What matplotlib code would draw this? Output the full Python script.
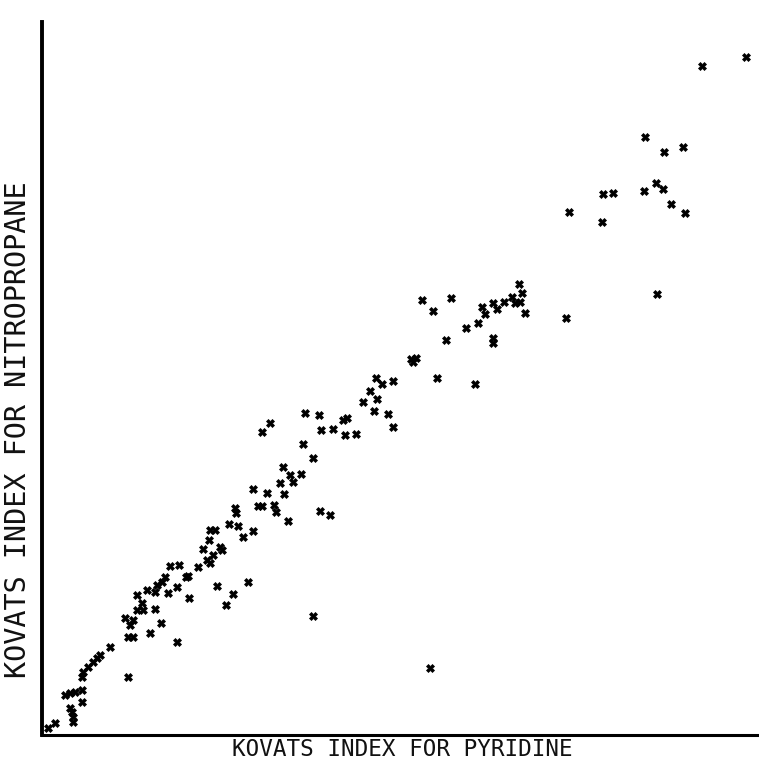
import numpy as np
import matplotlib
matplotlib.use("Agg")
import matplotlib.pyplot as plt

# --- Kovats index: pyridine vs nitropropane --- #
# values are in plot units (0 at the axes origin), x = pyridine, y = nitropropane

pyridine = [
    660, 704, 603, 622, 641, 614, 621, 602, 561, 571, 629, 643, 527, 560, 615, 524,
    477, 480, 478, 473, 380, 409, 391, 483, 440, 451, 462, 470, 455, 443, 436, 424,
    451, 451, 404, 369, 374, 371, 395, 433,
    334, 340, 351, 328, 335, 321, 332, 346, 351, 263, 277, 305, 301, 279, 291, 303,
    314, 220, 228, 261, 271, 241, 259, 251, 248, 238, 225, 211, 242, 216, 220, 232,
    234, 246, 278, 288, 194, 193, 187, 196, 168, 173, 211, 201, 167, 178,
    161, 180, 171, 165, 168, 156, 146, 144, 128, 137, 123, 120, 135, 126, 115, 113,
    105, 147, 175, 206, 191, 184, 95, 100, 95, 101, 113, 83, 91, 88, 119, 108, 86, 91,
    135, 68, 58, 55, 51, 46, 41, 40, 86, 33, 28, 23, 40, 40, 28, 30, 31, 31, 13, 6,
    271, 388,
]
nitropropane = [
    669, 678, 598, 583, 588, 552, 546, 544, 541, 542, 531, 522, 523, 513, 441, 417,
    451, 442, 433, 432, 435, 437, 424, 422, 428, 432, 433, 438, 426, 421, 412, 407,
    397, 392, 395, 376, 377, 373, 357, 351,
    357, 351, 354, 344, 336, 333, 324, 321, 308, 322, 320, 317, 315, 305, 306, 300,
    301, 303, 312, 291, 277, 268, 261, 253, 260, 252, 242, 246, 241, 229, 229, 230,
    223, 214, 224, 220, 222, 227, 211, 209, 205, 205, 204, 198, 195, 188,
    186, 185, 180, 175, 172, 168, 159, 158, 169, 170, 158, 153, 148, 142, 150, 143,
    145, 137, 149, 153, 141, 130, 140, 132, 125, 125, 126, 117, 115, 110, 112, 102, 98, 98,
    93, 88, 80, 77, 73, 68, 63, 58, 58, 43, 42, 40, 45, 33, 27, 23, 18, 13, 12, 7,
    119, 67,
]

fig = plt.figure(figsize=(7.59, 7.67), dpi=100)
ax = fig.add_axes([42 / 759, 32 / 767, 717 / 759, 713 / 767])

ax.plot(pyridine, nitropropane, linestyle='none', marker='X', markersize=6,
        markerfacecolor='black', markeredgecolor='black', markeredgewidth=0.5)

ax.set_xlim(0, 717)
ax.set_ylim(0, 713)

# only the left and bottom axis lines, no ticks
ax.spines['top'].set_visible(False)
ax.spines['right'].set_visible(False)
ax.spines['left'].set_linewidth(2.8)
ax.spines['bottom'].set_linewidth(2.2)
ax.set_xticks([])
ax.set_yticks([])

fig.text(402 / 759, 1 - 749 / 767, 'KOVATS INDEX FOR PYRIDINE', family='DejaVu Sans Mono',
         fontsize=16.3, ha='center', va='center', color='#111111')
fig.text(18 / 759, 1 - 430 / 767, 'KOVATS INDEX FOR NITROPROPANE', family='DejaVu Sans Mono',
         fontsize=20.5, rotation=90, ha='center', va='center', color='#111111')

fig.savefig('out.png', dpi=100, facecolor='white')
